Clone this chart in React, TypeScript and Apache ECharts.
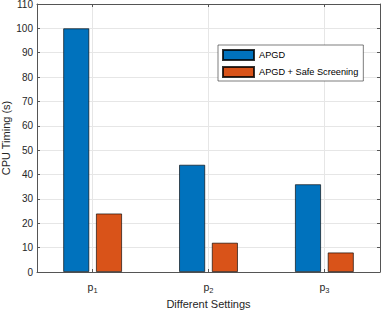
import React, { useEffect, useRef } from "react";
import * as echarts from "echarts";

const categoryBase = ["p", "p", "p"];
const categorySubs = ["1", "2", "3"];
const categoryPositions = [1, 2, 3];
const seriesNames = ["APGD", "APGD + Safe Screening"];
const apgdValues = [100, 44, 36];
const safeValues = [24, 12, 8];
const yTicks = [0, 10, 20, 30, 40, 50, 60, 70, 80, 90, 100, 110];

const FONT = "'Liberation Sans', Arial, Helvetica, sans-serif";
const TEXT = "#262626";
const AXIS = "#555555";

export default function App() {
  const ref = useRef<HTMLDivElement>(null);
  useEffect(() => {
    if (!ref.current) return;
    const chart = echarts.init(ref.current, null, { renderer: "svg" });
    const xmin = 0.52;
    const xmax = 3.48;
    const label = (v: number) => {
      const i = categoryPositions.indexOf(Math.round(v));
      if (i < 0) return "";
      return `{b|${categoryBase[i]}}{s|${categorySubs[i]}}`;
    };
    chart.setOption({
      animation: false,
      textStyle: { fontFamily: FONT, color: TEXT },
      grid: { left: 37, right: 2, top: 4, bottom: 39, show: false, containLabel: false, outerBoundsMode: "none" },
      legend: {
        data: seriesNames,
        orient: "vertical",
        left: 218,
        top: 45,
        itemWidth: 31,
        itemHeight: 10,
        itemGap: 5,
        padding: [4, 5, 3, 4],
        borderColor: TEXT,
        borderWidth: 0.6,
        backgroundColor: "#fff",
        borderRadius: 0,
        icon: "rect",
        textStyle: { fontFamily: FONT, fontSize: 9.2, color: "#000" },
      },
      xAxis: [
        {
          type: "value",
          position: "bottom",
          min: xmin,
          max: xmax,
          name: "Different Settings",
          nameLocation: "middle",
          nameGap: 26,
          nameMoveOverlap: false,
          nameTextStyle: { fontFamily: FONT, fontSize: 11, color: TEXT },
          axisLine: { show: true, onZero: false, lineStyle: { color: AXIS, width: 1 } },
          axisTick: { show: true, inside: true, length: 3, customValues: categoryPositions, lineStyle: { color: AXIS } },
          axisLabel: {
            show: true,
            customValues: categoryPositions,
            formatter: label,
            margin: 8,
            rich: {
              b: { fontFamily: FONT, fontSize: 10.5, color: TEXT },
              s: { fontFamily: FONT, fontSize: 7.5, color: TEXT, padding: [6, 0, 0, 0] },
            },
          },
          splitLine: { show: true, lineStyle: { color: "#e6e6e6", width: 1 } },
        },
        {
          type: "value",
          position: "top",
          min: xmin,
          max: xmax,
          axisLine: { show: true, onZero: false, lineStyle: { color: AXIS, width: 1 } },
          axisTick: { show: true, inside: true, length: 3, customValues: categoryPositions, lineStyle: { color: AXIS } },
          axisLabel: { show: false },
          splitLine: { show: false },
        },
      ],
      yAxis: [
        {
          type: "value",
          position: "left",
          min: yTicks[0],
          max: yTicks[yTicks.length - 1],
          interval: 10,
          name: "CPU Timing (s)",
          nameLocation: "middle",
          nameGap: 26,
          nameMoveOverlap: false,
          nameTextStyle: { fontFamily: FONT, fontSize: 11, color: TEXT },
          axisLine: { show: true, onZero: false, lineStyle: { color: AXIS, width: 1 } },
          axisTick: { show: true, inside: true, length: 3, lineStyle: { color: AXIS } },
          axisLabel: { fontFamily: FONT, fontSize: 10, color: TEXT, margin: 4 },
          splitLine: { show: true, lineStyle: { color: "#e6e6e6", width: 1 } },
        },
        {
          type: "value",
          position: "right",
          min: yTicks[0],
          max: yTicks[yTicks.length - 1],
          interval: 10,
          axisLine: { show: true, onZero: false, lineStyle: { color: AXIS, width: 1 } },
          axisTick: { show: true, inside: true, length: 3, lineStyle: { color: AXIS } },
          axisLabel: { show: false },
          splitLine: { show: false },
        },
      ],
      series: [
        {
          name: seriesNames[0],
          type: "bar",
          xAxisIndex: 0,
          yAxisIndex: 0,
          barWidth: 26,
          barGap: "26%",
          data: categoryPositions.map((x, i) => [x, apgdValues[i]]),
          itemStyle: { color: "#0072BD", borderColor: "rgba(0,0,0,0.8)", borderWidth: 0.8 },
        },
        {
          name: seriesNames[1],
          type: "bar",
          xAxisIndex: 0,
          yAxisIndex: 0,
          barWidth: 26,
          barGap: "26%",
          data: categoryPositions.map((x, i) => [x, safeValues[i]]),
          itemStyle: { color: "#D95319", borderColor: "rgba(0,0,0,0.8)", borderWidth: 0.8 },
        },
      ],
    });
    return () => chart.dispose();
  }, []);
  return (
    <div
      ref={ref}
      style={{ position: "fixed", left: 0, top: 0, width: 382, height: 311, background: "#fff" }}
    />
  );
}
